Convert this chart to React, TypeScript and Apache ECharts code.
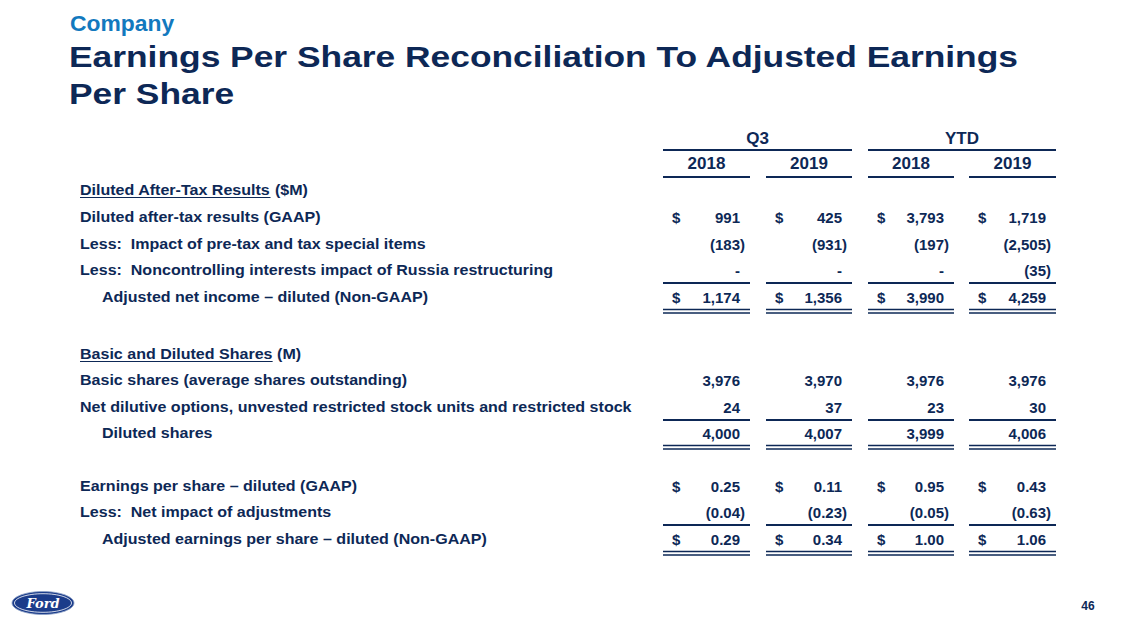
import React, { useEffect, useRef } from "react";
import * as echarts from "echarts";

// ---------- data ----------
const PERIOD_GROUPS = ["Q3", "YTD"];
const YEARS = ["2018", "2019", "2018", "2019"];

const netIncomeGAAP = [991, 425, 3793, 1719];
const specialItems = [-183, -931, -197, -2505];
const russiaNCI = [0, 0, 0, -35];
const adjustedNetIncome = [1174, 1356, 3990, 4259];

const basicShares = [3976, 3970, 3976, 3976];
const dilutiveOptions = [24, 37, 23, 30];
const dilutedShares = [4000, 4007, 3999, 4006];

const epsGAAP = [0.25, 0.11, 0.95, 0.43];
const epsAdjustments = [-0.04, -0.23, -0.05, -0.63];
const adjustedEPS = [0.29, 0.34, 1.0, 1.06];

const SUBTITLE = "Company";
const TITLE_LINES = ["Earnings Per Share Reconciliation To Adjusted Earnings", "Per Share"];
const PAGE_NUMBER = "46";

type Row =
  | { kind: "header"; underlined: string; rest: string }
  | { kind: "data"; label: string; values: number[]; decimals: number; dollar?: boolean; indent?: boolean; rule?: "single" | "double" };

const ROWS: Row[] = [
  { kind: "header", underlined: "Diluted After-Tax Results", rest: "($M)" },
  { kind: "data", label: "Diluted after-tax results (GAAP)", values: netIncomeGAAP, decimals: 0, dollar: true },
  { kind: "data", label: "Less:\u00a0\u00a0Impact of pre-tax and tax special items", values: specialItems, decimals: 0 },
  { kind: "data", label: "Less:\u00a0\u00a0Noncontrolling interests impact of Russia restructuring", values: russiaNCI, decimals: 0, rule: "single" },
  { kind: "data", label: "Adjusted net income \u2013 diluted (Non-GAAP)", values: adjustedNetIncome, decimals: 0, dollar: true, indent: true, rule: "double" },
  { kind: "header", underlined: "Basic and Diluted Shares", rest: "(M)" },
  { kind: "data", label: "Basic shares (average shares outstanding)", values: basicShares, decimals: 0 },
  { kind: "data", label: "Net dilutive options, unvested restricted stock units and restricted stock", values: dilutiveOptions, decimals: 0, rule: "single" },
  { kind: "data", label: "Diluted shares", values: dilutedShares, decimals: 0, indent: true, rule: "double" },
  { kind: "data", label: "Earnings per share \u2013 diluted (GAAP)", values: epsGAAP, decimals: 2, dollar: true },
  { kind: "data", label: "Less:\u00a0\u00a0Net impact of adjustments", values: epsAdjustments, decimals: 2, rule: "single" },
  { kind: "data", label: "Adjusted earnings per share \u2013 diluted (Non-GAAP)", values: adjustedEPS, decimals: 2, dollar: true, indent: true, rule: "double" },
];

// ---------- layout ----------
const ROW_Y = [190, 217, 244, 270, 297, 354, 380, 407, 433, 486, 512, 539];
const COL_SPANS: [number, number][] = [
  [663, 750],
  [766, 852],
  [868, 954],
  [969, 1056],
];
const NAVY = "#0D2856";
const BLUE = "#1279BE";
const FONT = '"Liberation Sans", Arial, Helvetica, sans-serif';
const LABEL_SIZE = 14;
const NUM_SIZE = 15;
const HEAD_SIZE = 17;
const TITLE_SIZE = 29;
const TITLE_RIGHT = 1020;
const LABEL_X = 80;
const INDENT_X = 102;
const LONGEST_LABEL_RIGHT = 632;

function fmt(v: number, decimals: number): string {
  if (v === 0) return "-";
  const s = Math.abs(v).toLocaleString("en-US", {
    minimumFractionDigits: decimals,
    maximumFractionDigits: decimals,
  });
  return v < 0 ? `(${s})` : s;
}

let _ctx: CanvasRenderingContext2D | null = null;
function measure(text: string, size: number): number {
  if (!_ctx) _ctx = document.createElement("canvas").getContext("2d");
  if (!_ctx) return text.length * size * 0.55;
  _ctx.font = `bold ${size}px ${FONT}`;
  return _ctx.measureText(text).width;
}

function txt(text: string, x: number, y: number, size: number, opts: any = {}) {
  return {
    type: "text",
    silent: true,
    x,
    y,
    scaleX: opts.scaleX || 1,
    style: {
      text,
      x: 0,
      y: 0,
      fill: opts.fill || NAVY,
      fontSize: size,
      fontWeight: "bold",
      fontFamily: opts.family || FONT,
      fontStyle: opts.fontStyle || "normal",
      align: opts.align || "left",
      verticalAlign: "middle",
    },
  };
}

function hline(x1: number, x2: number, y: number, w = 2) {
  return {
    type: "line",
    silent: true,
    shape: { x1, y1: y, x2, y2: y },
    style: { stroke: NAVY, lineWidth: w },
  };
}

function buildGraphics() {
  const g: any[] = [];
  // Titles (the slide's text is stretched horizontally)
  const titleX = 69;
  const titleScale = (TITLE_RIGHT - titleX) / measure(TITLE_LINES[0], TITLE_SIZE);
  g.push(txt(SUBTITLE, 70, 24, 22, { fill: BLUE, scaleX: 1.04 }));
  g.push(txt(TITLE_LINES[0], titleX, 57, TITLE_SIZE, { scaleX: titleScale }));
  g.push(txt(TITLE_LINES[1], titleX, 94, TITLE_SIZE, { scaleX: titleScale }));

  // label stretch, from the longest row label
  const longest = ROWS.reduce((m, r) => (r.kind === "data" ? Math.max(m, measure(r.label, LABEL_SIZE)) : m), 0);
  const ls = (LONGEST_LABEL_RIGHT - LABEL_X) / longest;

  // Period group headers
  PERIOD_GROUPS.forEach((p, i) => {
    const a = COL_SPANS[i * 2][0];
    const b = COL_SPANS[i * 2 + 1][1];
    g.push(txt(p, (a + b) / 2, 138, HEAD_SIZE, { align: "center" }));
    g.push(hline(a, b, 150));
  });
  // Year headers
  YEARS.forEach((yr, i) => {
    const [a, b] = COL_SPANS[i];
    g.push(txt(yr, (a + b) / 2, 163, HEAD_SIZE, { align: "center" }));
    g.push(hline(a, b, 177));
  });

  // Rows
  ROWS.forEach((row, r) => {
    const y = ROW_Y[r];
    if (row.kind === "header") {
      const w = measure(row.underlined, LABEL_SIZE) * ls;
      g.push(txt(row.underlined, LABEL_X, y, LABEL_SIZE, { scaleX: ls }));
      g.push(hline(LABEL_X, LABEL_X + w, y + 7.5, 1.2));
      g.push(txt(row.rest, LABEL_X + w + measure(" ", LABEL_SIZE) * ls, y, LABEL_SIZE, { scaleX: ls }));
      return;
    }
    g.push(txt(row.label, row.indent ? INDENT_X : LABEL_X, y, LABEL_SIZE, { scaleX: ls }));
    row.values.forEach((v, c) => {
      const [a, b] = COL_SPANS[c];
      const right = b - 10;
      const s = fmt(v, row.decimals);
      if (v < 0) {
        g.push(txt(s, right + measure(")", NUM_SIZE), y, NUM_SIZE, { align: "right" }));
      } else {
        g.push(txt(s, right, y, NUM_SIZE, { align: "right" }));
      }
      if (row.dollar) g.push(txt("$", a + 9, y, NUM_SIZE));
      if (row.rule === "single") g.push(hline(a, b, y + 13));
      if (row.rule === "double") {
        g.push(hline(a, b, y + 12.5, 1.6));
        g.push(hline(a, b, y + 16, 1.6));
      }
    });
  });

  // Ford logo
  g.push({
    type: "ellipse",
    silent: true,
    shape: { cx: 43, cy: 603, rx: 31, ry: 11.5 },
    style: { fill: "#1B3C8A", stroke: "#8FA3C8", lineWidth: 0.8 },
  });
  g.push({
    type: "ellipse",
    silent: true,
    shape: { cx: 43, cy: 603, rx: 28.5, ry: 9.3 },
    style: { fill: "none", stroke: "#FFFFFF", lineWidth: 0.8 },
  });
  g.push(txt("Ford", 43, 603, 13, { fill: "#FFFFFF", family: '"DejaVu Serif", serif', fontStyle: "italic", align: "center" }));

  // Page number
  g.push(txt(PAGE_NUMBER, 1088, 606, 12, { align: "center" }));
  return g;
}

export default function App() {
  const ref = useRef<HTMLDivElement>(null);
  useEffect(() => {
    if (!ref.current) return;
    const chart = echarts.init(ref.current, undefined, { renderer: "svg" });
    chart.setOption({
      animation: false,
      backgroundColor: "#FFFFFF",
      graphic: { elements: buildGraphics() },
    });
    return () => chart.dispose();
  }, []);
  return (
    <div
      ref={ref}
      style={{ position: "absolute", left: 0, top: 0, width: 1134, height: 635, background: "#fff" }}
    />
  );
}
